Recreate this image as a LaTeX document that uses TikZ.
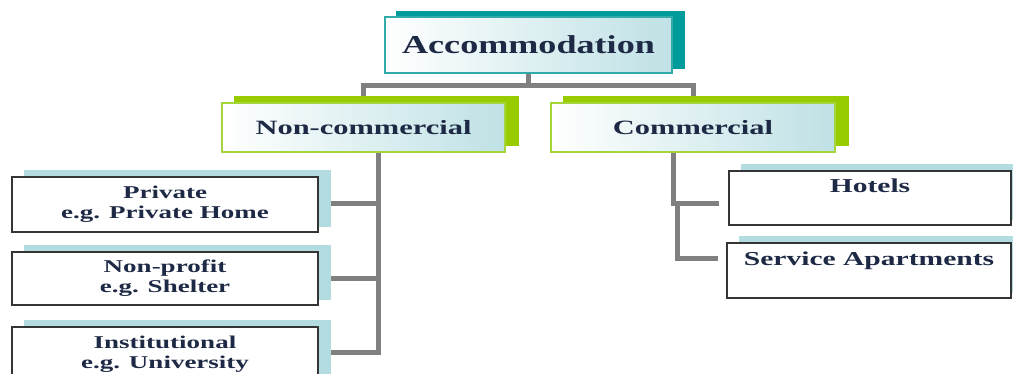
\documentclass[tikz,border=0pt]{standalone}
\usepackage{fontspec}
\newfontfamily\dfont{Liberation Serif}[FakeStretch=1.5]
\newfontfamily\dfontA{Liberation Serif}[FakeStretch=1.4]
\usetikzlibrary{backgrounds}
\definecolor{connc}{HTML}{808080}
\definecolor{accb}{HTML}{33AAAA}
\definecolor{accsh}{HTML}{009C9C}
\definecolor{grn}{HTML}{99CC00}
\definecolor{grnb}{HTML}{A4D53A}
\definecolor{gradc}{HTML}{BFE1E5}
\definecolor{lbl}{HTML}{B2DCE0}
\definecolor{leafb}{HTML}{353535}
\definecolor{txtc}{HTML}{1E2A45}
\tikzset{
  conn/.style={draw=connc, line width=5pt},
  boxbase/.style={inner sep=0pt, text=txtc, anchor=center},
  lvone/.style={boxbase, draw=accb, line width=1.5pt, left color=white, right color=gradc,
    minimum width=287pt, minimum height=56pt, font=\dfontA\bfseries\fontsize{25.8}{30}\selectfont},
  lvtwo/.style={boxbase, draw=grnb, line width=1.5pt, left color=white, right color=gradc,
    minimum width=283pt, minimum height=49pt, font=\dfont\bfseries\fontsize{20.3}{24}\selectfont},
  leafl/.style={boxbase, draw=leafb, line width=1.8pt, fill=white, align=center,
    minimum width=306pt, minimum height=55pt, font=\dfont\bfseries\fontsize{18}{20}\selectfont},
  leafr/.style={boxbase, draw=leafb, line width=1.8pt, fill=white,
    minimum width=283pt, minimum height=55pt, text height=14pt, text depth=25pt,
    font=\dfont\bfseries\fontsize{19.7}{23}\selectfont},
}
\begin{document}
\begin{tikzpicture}[x=1pt,y=1pt]
\useasboundingbox (0,0) rectangle (1013,373);
\node[lvone] (acc) at (528.5,328) {Accommodation};
\node[lvtwo] (nc) at (363.5,245.5) {Non-commercial};
\node[lvtwo, minimum width=284pt] (co) at (693,245.5) {Commercial};
\node[leafl] (pr) at (165,168.5) {Private\\e.g. Private Home};
\node[leafl, minimum height=53pt] (np) at (165,94.5) {Non-profit\\e.g. Shelter};
\node[leafl] (ins) at (165,18.5) {Institutional\\e.g. University};
\node[leafr, minimum height=54pt, minimum width=282pt] (ho) at (870,175) {Hotels};
\node[leafr, minimum width=284pt] (sa) at (869,102.5) {Service Apartments};
\begin{scope}[on background layer]
  \fill[white] (0,0) rectangle (1013,373);
  % connectors
  \coordinate (j1) at ([yshift=-12pt]acc.south);
  \draw[conn] (acc.south) -- (j1) -| (nc.north);
  \draw[conn] (j1) -| (co.north);
  \coordinate (nct) at ([xshift=14.5pt]nc.south);
  \draw[conn] (nct) |- ([yshift=2.5pt]ins.east);
  \draw[conn] ([yshift=1.5pt]pr.east) -- ([yshift=1.5pt]pr.east -| nct);
  \draw[conn] (np.east) -- (np.east -| nct);
  \coordinate (ct) at ([xshift=-20pt]co.south);
  \coordinate (hb) at ([shift={(-9,-5)}]ho.west);
  \draw[conn] (ct) |- (hb);
  \coordinate (c2) at (677,167);
  \coordinate (sb) at ([shift={(-8,12.5)}]sa.west);
  \draw[conn] (c2) |- (sb);
  % shadows
  \fill[accsh] ([shift={(12,5)}]acc.south west) rectangle ([shift={(12,5)}]acc.north east);
  \foreach \n in {nc,co}
    \fill[grn] ([shift={(13,6.5)}]\n.south west) rectangle ([shift={(13,6.5)}]\n.north east);
  \foreach \n in {pr,np,ins,ho,sa}
    \fill[lbl] ([shift={(12.5,6)}]\n.south west) rectangle ([shift={(12.5,6)}]\n.north east);
\end{scope}
\end{tikzpicture}
\end{document}
